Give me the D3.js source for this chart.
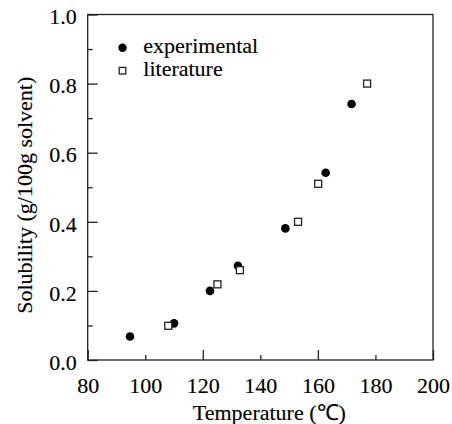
<!DOCTYPE html>
<html>
<head>
<meta charset="utf-8">
<script src="https://cdn.jsdelivr.net/npm/d3@7"></script>
<style>
  body { margin: 0; background: #fff; }
  text { font-family: "Liberation Serif", "Times New Roman", "DejaVu Serif", serif; }
</style>
</head>
<body>
<div id="chart"></div>
<script>
// data
var expTemp = [94.7, 110, 122.5, 132.2, 148.7, 162.7, 171.7];
var expSol  = [0.068, 0.106, 0.20, 0.273, 0.381, 0.542, 0.741];
var litTemp = [108, 125.1, 132.9, 153.1, 160.1, 177.1];
var litSol  = [0.099, 0.219, 0.26, 0.40, 0.51, 0.80];
var xLabels = [80, 100, 120, 140, 160, 180, 200];
var yLabels = [0.0, 0.2, 0.4, 0.6, 0.8, 1.0];
var xMinor = [100, 140, 180];
var xMajor = [80, 120, 160, 200];
var yMinor = [0.1, 0.3, 0.5, 0.7, 0.9];
var seriesNames = ["experimental", "literature"];

var svgWidth = 452, svgHeight = 424;
var margin = {left: 87.7, right: 19, top: 14.5, bottom: 64};
var plotW = svgWidth - margin.left - margin.right;
var plotH = svgHeight - margin.top - margin.bottom;
var fontSize = 22;
var serif = "'Liberation Serif', 'Times New Roman', serif";
var ink = "#000";
var textStroke = 0.15;

var svg = d3.select("#chart").append("svg")
    .attr("width", svgWidth)
    .attr("height", svgHeight);
var g = svg.append("g")
    .attr("transform", "translate(" + margin.left + "," + margin.top + ")");

var x = d3.scaleLinear().domain([80, 200]).range([0, plotW]);
var y = d3.scaleLinear().domain([0, 1]).range([plotH, 0]);

//frame
g.append("rect")
    .attr("width", plotW)
    .attr("height", plotH)
    .attr("fill", "none")
    .style("stroke", "#222").style("stroke-width", 1.3);

//ticks (inward), major and minor
function tickAxis(axis, tr) {
    var a = g.append("g").attr("transform", tr).call(axis);
    a.select(".domain").remove();
    a.selectAll("line").style("stroke", "#222").style("stroke-width", 1.3);
    a.selectAll("text").remove();
}
tickAxis(d3.axisBottom(x).tickValues(xMajor).tickSize(-10), "translate(0," + plotH + ")");
tickAxis(d3.axisBottom(x).tickValues(xMinor).tickSize(-5), "translate(0," + plotH + ")");
tickAxis(d3.axisLeft(y).tickValues(yLabels).tickSize(-10), "");
tickAxis(d3.axisLeft(y).tickValues(yMinor).tickSize(-5), "");

//tick labels
function styleText(sel) {
    sel.style("font-family", serif)
        .attr("font-size", fontSize)
        .attr("fill", ink)
        .style("stroke", ink).style("stroke-width", textStroke);
}
var xAx = g.append("g")
    .attr("transform", "translate(0," + plotH + ")")
    .call(d3.axisBottom(x).tickValues(xLabels).tickSize(0).tickPadding(17).tickFormat(d3.format("d")));
xAx.select(".domain").remove();
xAx.attr("font-size", fontSize);
xAx.selectAll("text").call(styleText);

var yAx = g.append("g")
    .call(d3.axisLeft(y).tickValues(yLabels).tickSize(0).tickPadding(11).tickFormat(d3.format(".1f")));
yAx.select(".domain").remove();
yAx.attr("font-size", fontSize);
yAx.selectAll("text").call(styleText).attr("dy", "0.42em");

//axis titles
svg.append("text")
    .text("Temperature (\u2103)")
    .attr("x", margin.left + plotW / 2 + 9)
    .attr("y", 420)
    .attr("text-anchor", "middle")
    .call(styleText);

svg.append("text")
    .text("Solubility (g/100g solvent)")
    .attr("transform", "translate(32," + (margin.top + plotH / 2 + 8) + ") rotate(-90)")
    .attr("text-anchor", "middle")
    .call(styleText);

//points
var markR = 4.3, sq = 7;
var expData = expTemp.map(function(t, i) { return [t, expSol[i]]; });
var litData = litTemp.map(function(t, i) { return [t, litSol[i]]; });

g.append("g").selectAll("circle").data(expData).enter().append("circle")
    .attr("cx", function(d) { return x(d[0]); })
    .attr("cy", function(d) { return y(d[1]); })
    .attr("r", markR)
    .attr("fill", "#000");

g.append("g").selectAll("rect").data(litData).enter().append("rect")
    .attr("x", function(d) { return x(d[0]) - sq / 2; })
    .attr("y", function(d) { return y(d[1]) - sq / 2; })
    .attr("width", sq)
    .attr("height", sq)
    .attr("fill", "#fff")
    .style("stroke", "#222").style("stroke-width", 1.3);

//legend
var legend = svg.append("g").attr("transform", "translate(122.5,47.7)");
legend.append("circle").attr("cx", 0).attr("cy", 0).attr("r", 4.2).attr("fill", "#000");
legend.append("rect").attr("x", -3.3).attr("y", 23 - 3.3).attr("width", 6.6).attr("height", 6.6)
    .attr("fill", "#fff").style("stroke", "#222").style("stroke-width", 1.3);
legend.selectAll("text").data(seriesNames).enter().append("text")
    .text(function(d) { return d; })
    .attr("x", 20.8)
    .attr("y", function(d, i) { return i * 23 + 5; })
    .call(styleText);
</script>
</body>
</html>
